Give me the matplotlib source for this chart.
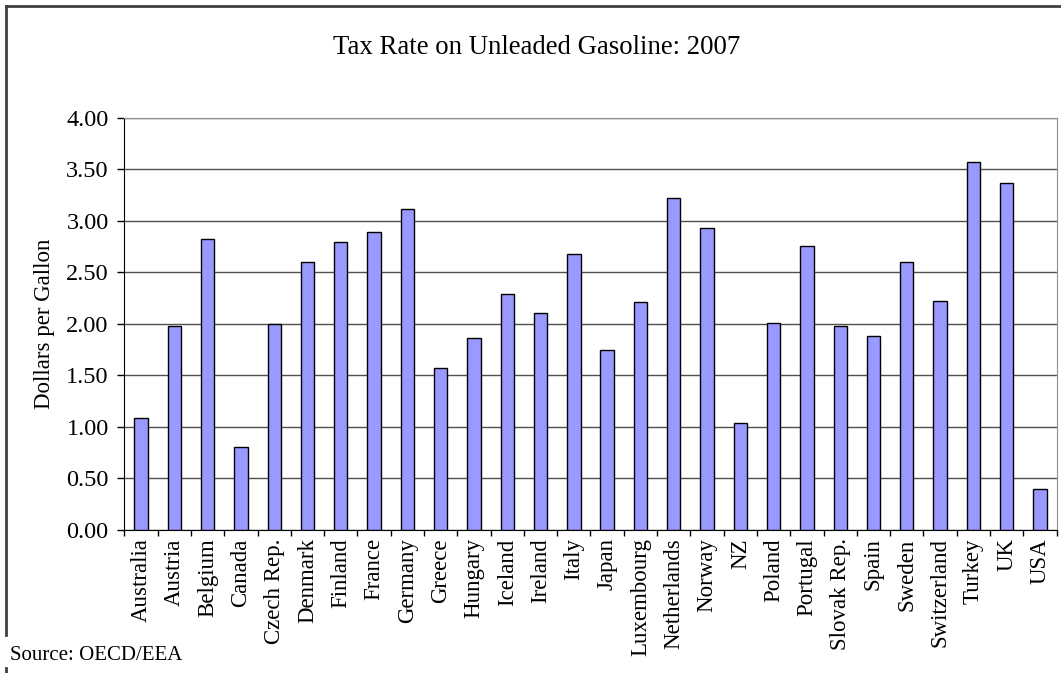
import matplotlib
matplotlib.use('Agg')
import matplotlib.pyplot as plt
from matplotlib.lines import Line2D
import numpy as np

countries = ['Australia', 'Austria', 'Belgium', 'Canada', 'Czech Rep.', 'Denmark',
             'Finland', 'France', 'Germany', 'Greece', 'Hungary', 'Iceland',
             'Ireland', 'Italy', 'Japan', 'Luxembourg', 'Netherlands', 'Norway',
             'NZ', 'Poland', 'Portugal', 'Slovak Rep.', 'Spain', 'Sweden',
             'Switzerland', 'Turkey', 'UK', 'USA']
tax_rates = [1.09, 1.98, 2.82, 0.81, 2.00, 2.60,
             2.79, 2.89, 3.11, 1.57, 1.86, 2.29,
             2.11, 2.68, 1.75, 2.21, 3.22, 2.93,
             1.04, 2.01, 2.76, 1.98, 1.88, 2.60,
             2.22, 3.57, 3.37, 0.40]
yticks = [0.0, 0.5, 1.0, 1.5, 2.0, 2.5, 3.0, 3.5, 4.0]

plt.rcParams['font.family'] = ['Liberation Serif', 'DejaVu Serif']

fig = plt.figure(figsize=(10.61, 6.73), dpi=100)
ax = fig.add_axes([0.1173, 0.2125, 0.8785, 0.6126])

x = np.arange(len(countries))
ax.bar(x, tax_rates, width=0.4, color='#9999FF', edgecolor='black', linewidth=1, zorder=3)

ax.set_xlim(-0.5, len(countries) - 0.5)
ax.set_ylim(0, 4)
ax.set_yticks(yticks)
ax.set_yticklabels([f'{v:.2f}' for v in yticks], fontsize=17.5)
ax.yaxis.grid(True, color='#505050', linewidth=1, zorder=0)

# labels centred under bars, tick marks between categories
ax.set_xticks(x)
ax.set_xticklabels(countries, rotation=90, fontsize=16.5)
ax.tick_params(axis='x', length=0, pad=6)
ax.set_xticks(np.arange(-0.5, len(countries)), minor=True)
ax.tick_params(axis='x', which='minor', length=4.3, width=1, direction='out')
ax.tick_params(axis='y', length=5.4, width=1, direction='out', pad=6)

ax.spines['left'].set_color('black')
ax.spines['bottom'].set_color('black')
ax.spines['top'].set_color('#909090')
ax.spines['right'].set_color('#909090')

ax.set_ylabel('Dollars per Gallon', fontsize=16.5, labelpad=8)

fig.text(0.506, 0.930, 'Tax Rate on Unleaded Gasoline: 2007', ha='center', va='center', fontsize=19.3)
fig.text(0.009, 0.026, 'Source: OECD/EEA', ha='left', va='center', fontsize=15)

# chart border (cropped at right and bottom)
fig.add_artist(Line2D([5.5 / 1061, 1.0], [1 - 6 / 673, 1 - 6 / 673], color='#404040', lw=2))
fig.add_artist(Line2D([5.5 / 1061, 5.5 / 1061], [1 - 6 / 673, 1 - 635 / 673], color='#404040', lw=2))
fig.add_artist(Line2D([5.5 / 1061, 5.5 / 1061], [1 - 668 / 673, 0.0], color='#404040', lw=2))

fig.savefig('out.png', dpi=100)
